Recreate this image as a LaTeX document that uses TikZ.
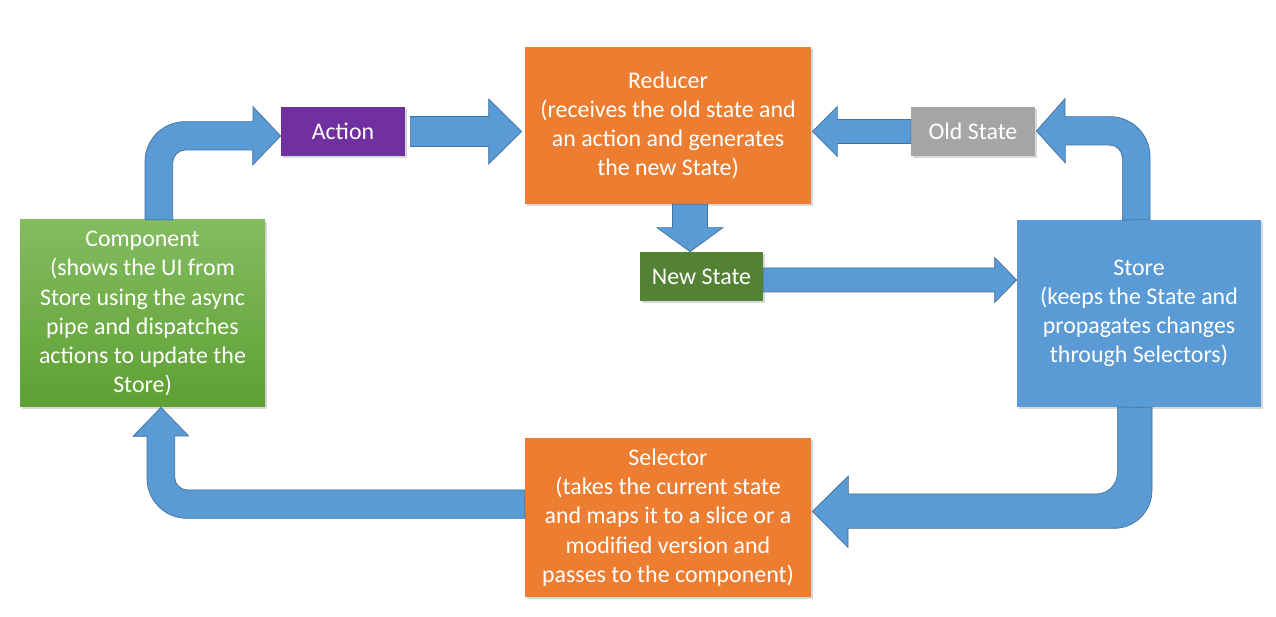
\documentclass[tikz,border=0pt]{standalone}
\usepackage{fontspec}
\setmainfont{Carlito}
\usetikzlibrary{calc}
\usetikzlibrary{shadows}

\definecolor{flowblue}{HTML}{5B9BD5}
\definecolor{flowedge}{HTML}{41719C}
\definecolor{reducerorange}{HTML}{ED7D31}
\definecolor{actionpurple}{HTML}{7030A0}
\definecolor{oldgray}{HTML}{A5A5A5}
\definecolor{newgreen}{HTML}{548235}
\definecolor{comptop}{HTML}{84BC61}
\definecolor{compbottom}{HTML}{5EA033}

\newcommand{\pxu}{0.02cm}
% straight block arrow: tail, tip, shaft half, head half, head length (signed)
\newcommand{\hflow}[5]{%
  \draw[flow] ($(#1)+(0,#3)$) -- ($(#2)+({-(#5)},#3)$) -- ($(#2)+({-(#5)},#4)$) -- (#2)
    -- ($(#2)+({-(#5)},{-(#4)})$) -- ($(#2)+({-(#5)},{-(#3)})$) -- ($(#1)+(0,{-(#3)})$) -- cycle;}

\tikzset{
  box/.style={inner sep=0pt,text=white,align=center,font=\fontsize{13.6}{16.6}\selectfont,
    drop shadow={shadow xshift=0.04cm,shadow yshift=-0.04cm,opacity=0.3}},
  flow/.style={fill=flowblue,draw=flowedge,line width=0.4pt},
}

\begin{document}
\begin{tikzpicture}[x=\pxu,y=\pxu]
\useasboundingbox (0,0) rectangle (1276,617);

\node[box,fill=actionpurple,minimum width=124*\pxu,minimum height=49*\pxu] (action) at (343,485.5) {Action};
\node[box,fill=reducerorange,minimum width=286*\pxu,minimum height=157*\pxu] (reducer) at (668,491.5)
  {Reducer\\(receives the old state and\\an action and generates\\the new State)};
\node[box,fill=oldgray,minimum width=124*\pxu,minimum height=49*\pxu] (oldstate) at (973,485.5) {Old State};
\node[box,fill=newgreen,minimum width=123*\pxu,minimum height=49*\pxu] (newstate) at (701.5,340.5) {New State};
\node[box,fill=flowblue,minimum width=244*\pxu,minimum height=187*\pxu] (store) at (1139,303.5)
  {Store\\(keeps the State and\\propagates changes\\through Selectors)};
\node[box,top color=comptop,bottom color=compbottom,minimum width=245*\pxu,minimum height=187*\pxu] (component) at (142.5,303.5)
  {Component\\(shows the UI from\\Store using the async\\pipe and dispatches\\actions to update the\\Store)};
\node[box,fill=reducerorange,minimum width=286*\pxu,minimum height=159*\pxu] (selector) at (668,99.5)
  {Selector\\(takes the current state\\and maps it to a slice or a\\modified version and\\passes to the component)};

% component -> action
\draw[flow] ($(component.north)+(2.5,0)$) -- ++(0,58) arc[start angle=180,end angle=90,radius=40] -- ++(68,0) -- ++(0,15)
  -- ($(action.west)+(0,-4.5)$) -- ++(-28,-29) -- ++(0,15) -- ++(-67,0) arc[start angle=90,end angle=180,radius=13] -- ++(0,-57) -- cycle;

% action -> reducer, old state -> reducer
\coordinate (act-out) at ($(action.east)+(5,0)$);
\coordinate (red-in) at ($(reducer.west |- action.east)+(-3,0)$);
\hflow{act-out}{red-in}{15}{32.5}{33}
\coordinate (red-back) at ($(reducer.east |- oldstate.west)+(1,0)$);
\hflow{oldstate.west}{red-back}{12}{25}{-25}

% store -> old state
\draw[flow] ($(store.north)+(11,0)$) -- ++(0,63) arc[start angle=0,end angle=90,radius=40] -- ++(-45,0) -- ++(0,18)
  -- ($(oldstate.east)+(1,0.5)$) -- ++(29,-32) -- ++(0,18) -- ++(44,0) arc[start angle=90,end angle=0,radius=13] -- ++(0,-62) -- cycle;

% reducer -> new state
\coordinate (red-down) at ($(reducer.south)+(22,0)$);
\coordinate (new-in) at (red-down |- newstate.north);
\draw[flow] ($(red-down)+(-17.5,0)$) -- ($(new-in)+(-17.5,24)$) -- ($(new-in)+(-33,24)$) -- (new-in)
  -- ($(new-in)+(33,24)$) -- ($(new-in)+(17.5,24)$) -- ($(red-down)+(17.5,0)$) -- cycle;

% new state -> store
\coordinate (new-out) at ($(newstate.east)+(0,-3.5)$);
\coordinate (store-in) at (store.west |- new-out);
\hflow{new-out}{store-in}{12}{22.5}{22}

% store -> selector
\draw[flow] ($(store.south)+(13,0)$) -- ++(0,-83) arc[start angle=0,end angle=-90,radius=38] -- ++(-266,0) -- ++(0,-19)
  -- ($(selector.east)+(1,6)$) -- ++(36,35.5) -- ++(0,-18) -- ++(248,0) arc[start angle=-90,end angle=0,radius=21] -- ++(0,66) -- cycle;

% selector -> component
\draw[flow] ($(selector.west)+(0,27.5)$) -- ++(-337,0) arc[start angle=-90,end angle=-180,radius=13] -- ++(0,41) -- ++(14,0)
  -- ($(component.south)+(18.5,0)$) -- ++(-28,-29) -- ++(14,0) -- ++(0,-42) arc[start angle=180,end angle=270,radius=40] -- ++(338,0) -- cycle;

\end{tikzpicture}
\end{document}
